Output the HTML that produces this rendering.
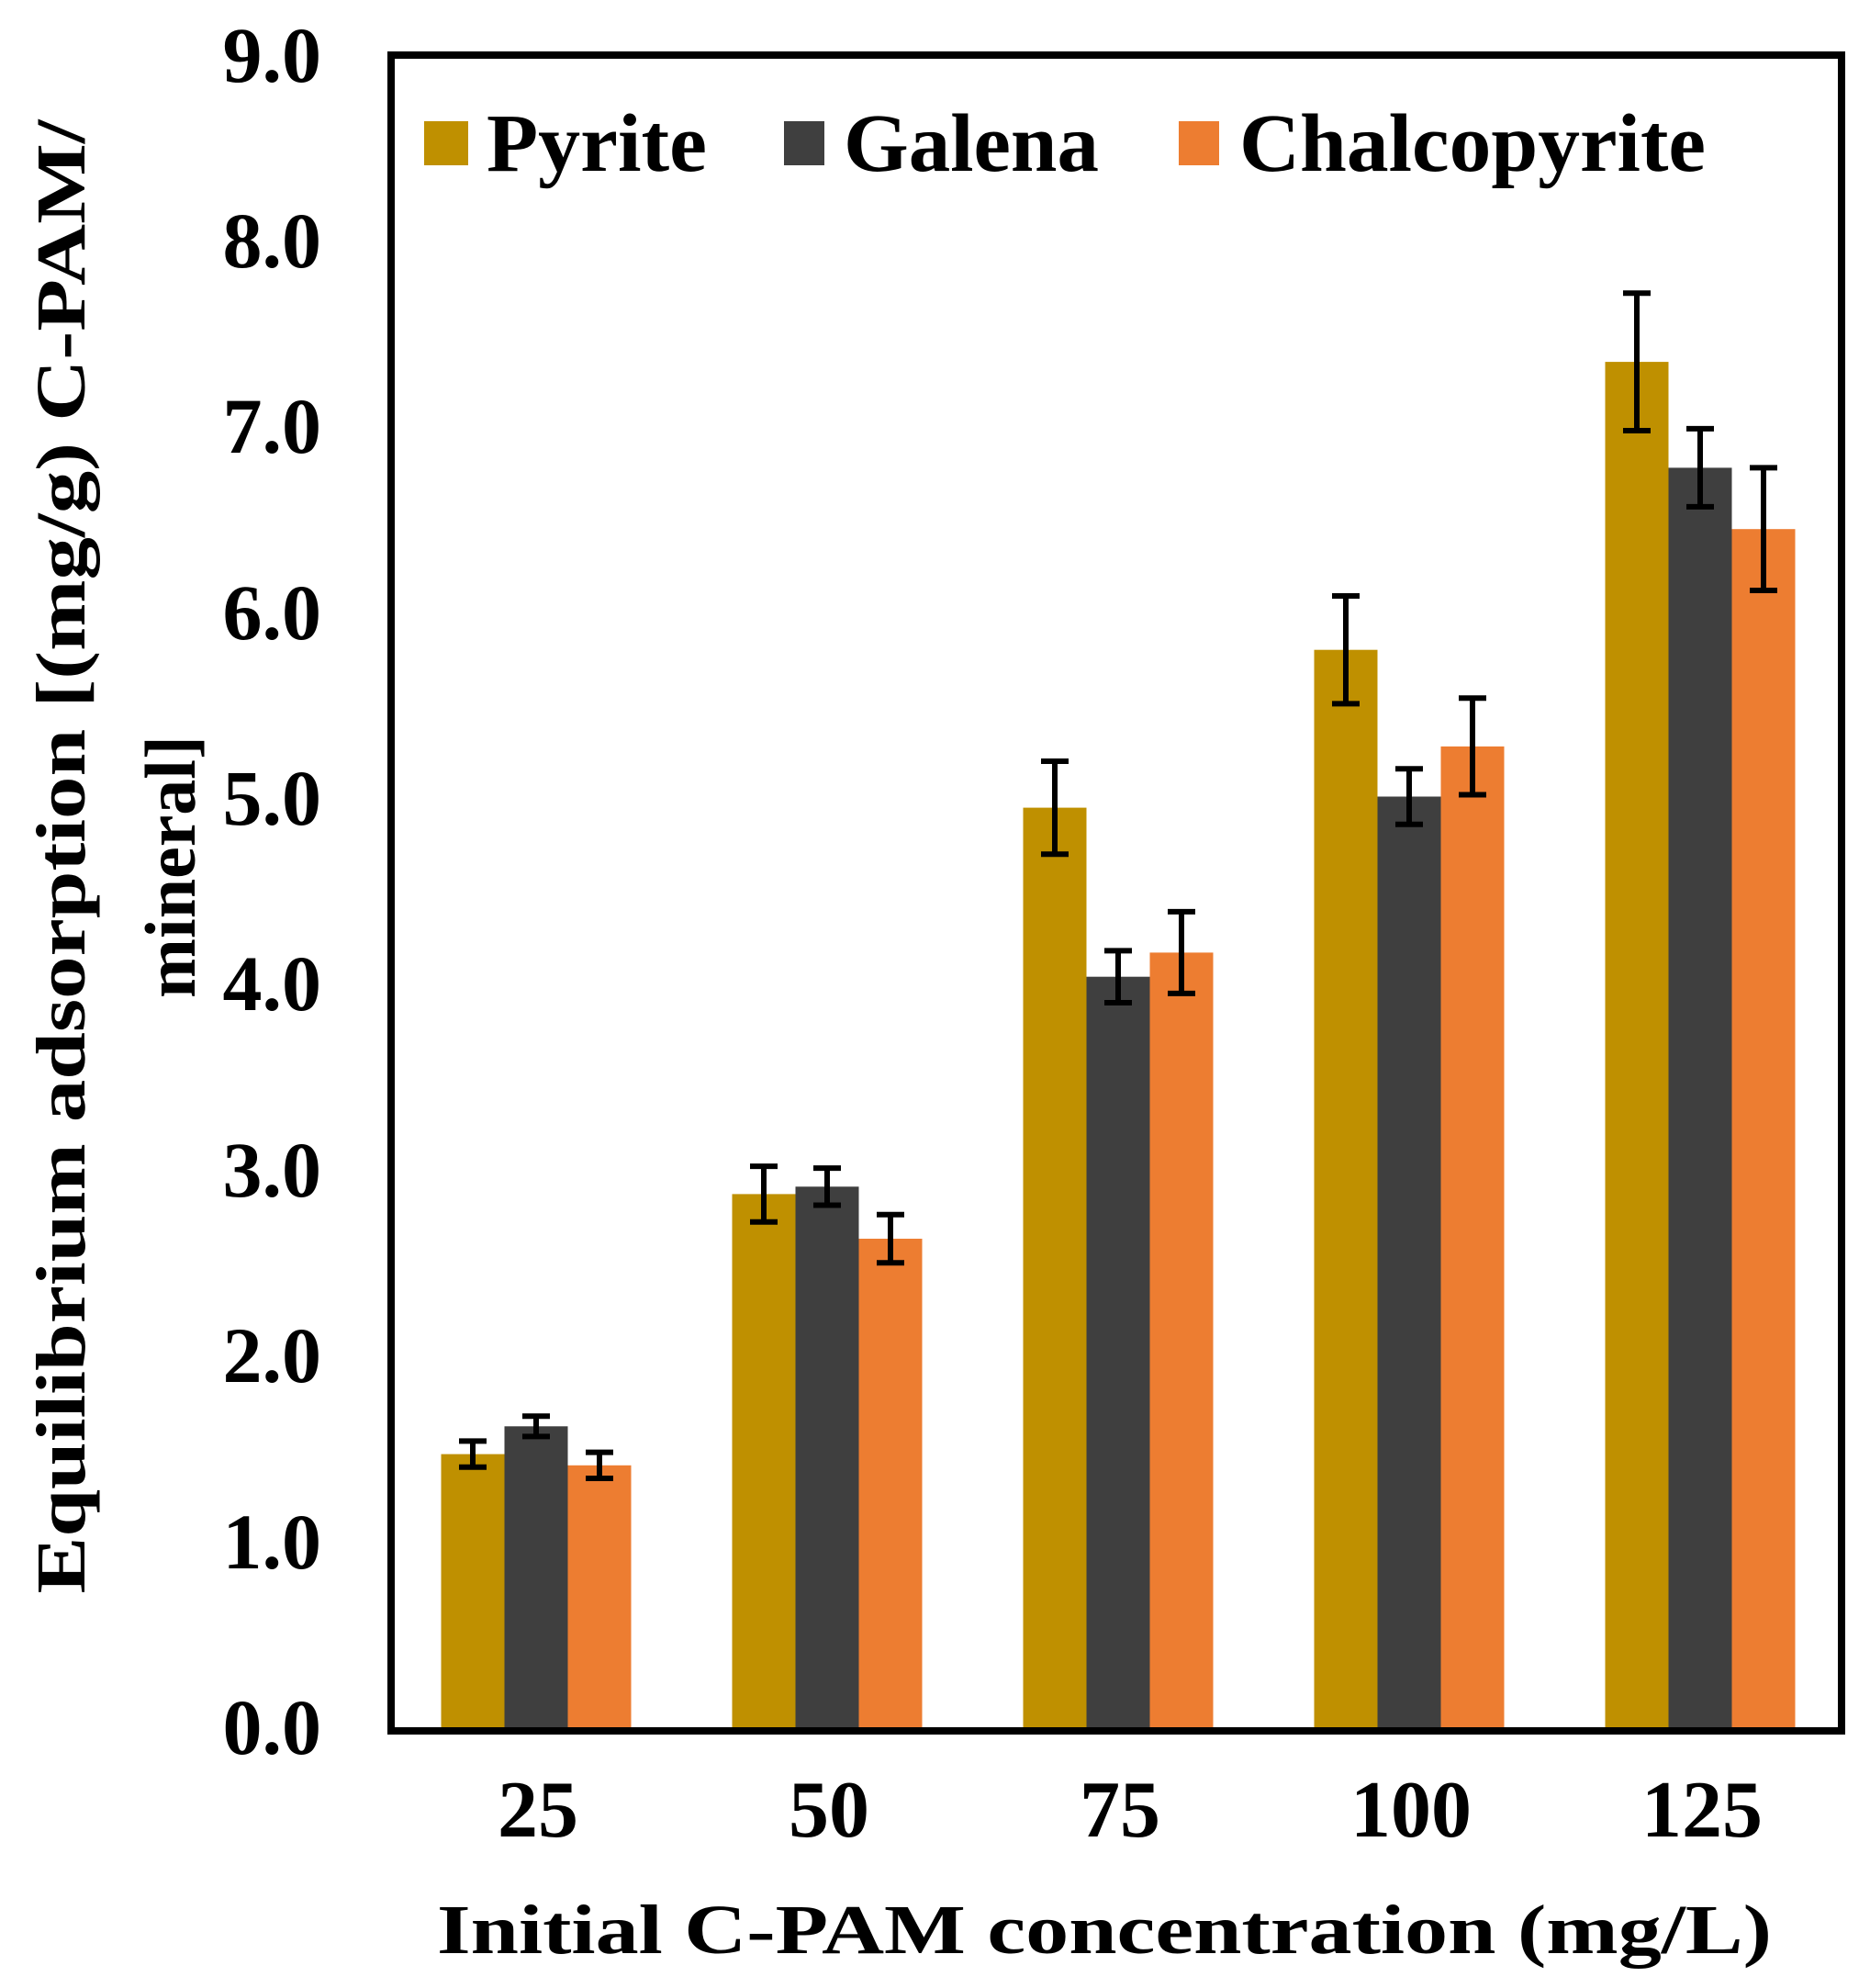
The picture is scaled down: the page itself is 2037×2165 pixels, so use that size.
<!DOCTYPE html>
<html><head><meta charset="utf-8"><style>html,body{margin:0;padding:0;background:#fff}svg{display:block}</style></head><body>
<svg width="2037" height="2165" viewBox="0 0 2037 2165" xmlns="http://www.w3.org/2000/svg" font-family="Liberation Serif, serif" font-weight="bold">
<g fill="#BF9000">
<rect x="480.5" y="1583.6" width="69" height="297.4"/>
<rect x="797.5" y="1300.4" width="69" height="580.6"/>
<rect x="1114.5" y="879.6" width="69" height="1001.4"/>
<rect x="1431.5" y="707.7" width="69" height="1173.3"/>
<rect x="1748.5" y="394.1" width="69" height="1486.9"/>
</g>
<g fill="#3F3F3F">
<rect x="549.5" y="1553.3" width="69" height="327.7"/>
<rect x="866.5" y="1292.3" width="69" height="588.7"/>
<rect x="1183.5" y="1063.7" width="69" height="817.3"/>
<rect x="1500.5" y="867.5" width="69" height="1013.5"/>
<rect x="1817.5" y="509.4" width="69" height="1371.6"/>
</g>
<g fill="#ED7D31">
<rect x="618.5" y="1595.8" width="69" height="285.2"/>
<rect x="935.5" y="1349" width="69" height="532"/>
<rect x="1252.5" y="1037.4" width="69" height="843.6"/>
<rect x="1569.5" y="812.9" width="69" height="1068.1"/>
<rect x="1886.5" y="576.2" width="69" height="1304.8"/>
</g>
<g stroke="#000" stroke-width="6" fill="none" transform="translate(-2,0)">
<path d="M517 1569.4V1597.8M502 1569.4h30M502 1597.8h30"/>
<path d="M586 1542.2V1564.4M571 1542.2h30M571 1564.4h30"/>
<path d="M655 1581.6V1610M640 1581.6h30M640 1610h30"/>
<path d="M834 1270.1V1330.7M819 1270.1h30M819 1330.7h30"/>
<path d="M903 1272.1V1312.5M888 1272.1h30M888 1312.5h30"/>
<path d="M972 1322.7V1375.3M957 1322.7h30M957 1375.3h30"/>
<path d="M1151 829V930.2M1136 829h30M1136 930.2h30"/>
<path d="M1220 1035.4V1092M1205 1035.4h30M1205 1092h30"/>
<path d="M1289 992.9V1081.9M1274 992.9h30M1274 1081.9h30"/>
<path d="M1468 649V766.4M1453 649h30M1453 766.4h30"/>
<path d="M1537 837.2V897.8M1522 837.2h30M1522 897.8h30"/>
<path d="M1606 760.3V865.5M1591 760.3h30M1591 865.5h30"/>
<path d="M1785 319.2V469M1770 319.2h30M1770 469h30"/>
<path d="M1854 466.9V551.9M1839 466.9h30M1839 551.9h30"/>
<path d="M1923 509.4V643M1908 509.4h30M1908 643h30"/>
</g>
<rect x="426" y="60" width="1580" height="1825" fill="none" stroke="#000" stroke-width="8"/>
<g font-size="86" text-anchor="end" fill="#000">
<text x="350" y="1910">0.0</text><text x="350" y="1708">1.0</text><text x="350" y="1505">2.0</text><text x="350" y="1303">3.0</text><text x="350" y="1100">4.0</text><text x="350" y="898">5.0</text><text x="350" y="696">6.0</text><text x="350" y="493">7.0</text><text x="350" y="291">8.0</text><text x="350" y="89">9.0</text>
</g>
<g font-size="88" text-anchor="middle">
<text x="586" y="2000">25</text><text x="903" y="2000">50</text><text x="1220" y="2000">75</text><text x="1537" y="2000">100</text><text x="1854" y="2000">125</text>
</g>
<text x="1203" y="2127" font-size="76" text-anchor="middle" textLength="1454" lengthAdjust="spacingAndGlyphs">Initial  C-PAM concentration  (mg/L)</text>
<text transform="translate(92,933) rotate(-90)" font-size="76" text-anchor="middle" textLength="1605" lengthAdjust="spacingAndGlyphs">Equilibrium  adsorption [(mg/g) C-PAM/</text>
<text transform="translate(212,944) rotate(-90)" font-size="78" text-anchor="middle">mineral]</text>
<rect x="462" y="132" width="48" height="48" fill="#BF9000"/>
<text x="530" y="186" font-size="90" textLength="240" lengthAdjust="spacingAndGlyphs">Pyrite</text>
<rect x="854" y="132" width="44" height="48" fill="#3F3F3F"/>
<text x="919" y="186" font-size="90" textLength="278" lengthAdjust="spacingAndGlyphs">Galena</text>
<rect x="1284" y="132" width="44" height="48" fill="#ED7D31"/>
<text x="1350" y="186" font-size="90" textLength="508" lengthAdjust="spacingAndGlyphs">Chalcopyrite</text>
</svg>
</body></html>
